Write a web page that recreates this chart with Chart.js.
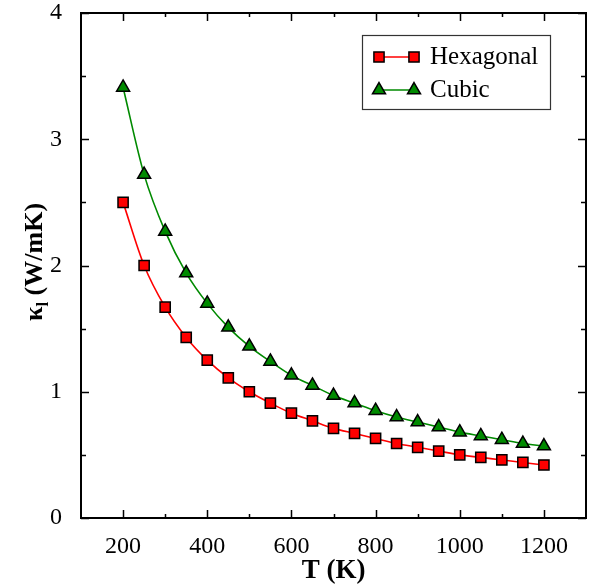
<!DOCTYPE html>
<html>
<head>
<meta charset="utf-8">
<script src="https://cdn.jsdelivr.net/npm/chart.js@4"></script>
<style>
    html, body { margin: 0; padding: 0; background: #ffffff; }
    canvas { display: block; }
</style>
</head>
<body>
<canvas id="kappaChart" width="603" height="587"></canvas>
<script>
// Lattice thermal conductivity vs temperature
const temps = [200, 250, 300, 350, 400, 450, 500, 550, 600, 650, 700,
               750, 800, 850, 900, 950, 1000, 1050, 1100, 1150, 1200];
const hexagonal = [2.50, 2.00, 1.67, 1.43, 1.25, 1.11, 1.00, 0.91, 0.83, 0.77, 0.71,
                   0.67, 0.63, 0.59, 0.56, 0.53, 0.50, 0.48, 0.46, 0.44, 0.42];
const cubic = [3.41, 2.72, 2.27, 1.94, 1.70, 1.51, 1.36, 1.24, 1.13, 1.05, 0.97,
               0.91, 0.85, 0.80, 0.76, 0.72, 0.68, 0.65, 0.62, 0.59, 0.57];

const xTicks = [200, 400, 600, 800, 1000, 1200];
const xMinorTicks = [300, 500, 700, 900, 1100];
const yTicks = [0, 1, 2, 3, 4];
const yMinorTicks = [0.5, 1.5, 2.5, 3.5];

const serif = "'Liberation Serif', 'Times New Roman', serif";

function toPoints(values) {
    return temps.map((t, i) => ({ x: t, y: values[i] }));
}

// frame, inward ticks, y title with subscript, legend box
const decorations = {
    id: 'decorations',
    afterDraw(chart) {
        const ctx = chart.ctx;
        const a = chart.chartArea;
        const xs = chart.scales.x;
        const ys = chart.scales.y;

        ctx.save();
        ctx.strokeStyle = '#000';
        ctx.lineWidth = 2;
        ctx.strokeRect(a.left, a.top, a.right - a.left, a.bottom - a.top);

        ctx.lineWidth = 1.5;
        ctx.beginPath();
        const tickX = (v, len) => {
            const px = Math.round(xs.getPixelForValue(v)) + 0.5;
            ctx.moveTo(px, a.bottom); ctx.lineTo(px, a.bottom - len);
            ctx.moveTo(px, a.top); ctx.lineTo(px, a.top + len);
        };
        const tickY = (v, len) => {
            const py = Math.round(ys.getPixelForValue(v)) + 0.5;
            ctx.moveTo(a.left, py); ctx.lineTo(a.left + len, py);
            ctx.moveTo(a.right, py); ctx.lineTo(a.right - len, py);
        };
        xTicks.forEach(v => tickX(v, 8));
        xMinorTicks.forEach(v => tickX(v, 4));
        yTicks.forEach(v => tickY(v, 8));
        yMinorTicks.forEach(v => tickY(v, 5));
        ctx.stroke();

        // y axis title: kappa with subscript l
        ctx.translate(33, 262);
        ctx.rotate(-Math.PI / 2);
        ctx.fillStyle = '#000';
        ctx.textBaseline = 'alphabetic';
        const big = 'bold 26px ' + serif;
        const small = 'bold 17px ' + serif;
        ctx.font = big;
        const wK = ctx.measureText('\u03BA').width;
        const wRest = ctx.measureText(' (W/mK)').width;
        ctx.font = small;
        const wSub = ctx.measureText('l').width;
        const x0 = -(wK + wSub + wRest) / 2;
        ctx.font = big;
        ctx.fillText('\u03BA', x0, 9);
        ctx.font = small;
        ctx.fillText('l', x0 + wK, 15);
        ctx.font = big;
        ctx.fillText(' (W/mK)', x0 + wK + wSub, 9);
        ctx.restore();

        // legend
        ctx.save();
        ctx.strokeStyle = '#333';
        ctx.lineWidth = 1.2;
        ctx.strokeRect(362.5, 35.5, 188, 74);
        const rows = [57, 90];
        chart.data.datasets.forEach((ds, i) => {
            const y = rows[i];
            ctx.strokeStyle = ds.borderColor;
            ctx.lineWidth = ds.borderWidth;
            ctx.beginPath();
            ctx.moveTo(379, y); ctx.lineTo(414, y);
            ctx.stroke();
            ctx.fillStyle = ds.pointBackgroundColor;
            ctx.strokeStyle = ds.pointBorderColor;
            ctx.lineWidth = ds.pointBorderWidth;
            [379, 414].forEach(px => {
                Chart.helpers.drawPoint(ctx, {
                    pointStyle: ds.pointStyle,
                    radius: ds.pointRadius,
                    borderWidth: ds.pointBorderWidth
                }, px, y);
            });
            ctx.fillStyle = '#000';
            ctx.font = '25px ' + serif;
            ctx.textBaseline = 'middle';
            ctx.fillText(ds.label, 430, y);
        });
        ctx.restore();
    }
};

const ctxKappa = document.getElementById('kappaChart').getContext('2d');
new Chart(ctxKappa, {
    type: 'line',
    data: {
        datasets: [{
            label: 'Hexagonal',
            data: toPoints(hexagonal),
            borderColor: '#ff0000',
            borderWidth: 1.6,
            backgroundColor: '#ff0000',
            pointStyle: 'rect',
            pointRadius: 7.2,
            pointBackgroundColor: '#ff0000',
            pointBorderColor: '#000000',
            pointBorderWidth: 1.5,
            cubicInterpolationMode: 'monotone'
        }, {
            label: 'Cubic',
            data: toPoints(cubic),
            borderColor: '#008a00',
            borderWidth: 1.6,
            backgroundColor: '#008a00',
            pointStyle: 'triangle',
            pointRadius: 7.5,
            pointBackgroundColor: '#008a00',
            pointBorderColor: '#000000',
            pointBorderWidth: 1.5,
            cubicInterpolationMode: 'monotone'
        }]
    },
    options: {
        responsive: false,
        animation: false,
        devicePixelRatio: 1,
        layout: { padding: { top: 13, right: 17, left: 0, bottom: 0 } },
        plugins: {
            legend: { display: false },
            tooltip: { enabled: false }
        },
        scales: {
            x: {
                type: 'linear',
                min: 100,
                max: 1300,
                grid: { display: false },
                border: { display: false },
                afterBuildTicks: scale => { scale.ticks = xTicks.map(v => ({ value: v })); },
                afterFit: scale => {
                    scale.height = 69;
                    scale.paddingLeft = 0;
                    scale.paddingRight = 0;
                },
                ticks: {
                    color: '#000',
                    padding: 6,
                    maxRotation: 0,
                    callback: v => String(v),
                    font: { family: serif, size: 24 }
                },
                title: {
                    display: true,
                    text: 'T (K)',
                    color: '#000',
                    padding: { top: 0, bottom: 0 },
                    font: { family: serif, size: 27, weight: 'bold' }
                }
            },
            y: {
                min: 0,
                max: 4,
                grid: { display: false },
                border: { display: false },
                afterBuildTicks: scale => { scale.ticks = yTicks.map(v => ({ value: v })); },
                afterFit: scale => {
                    scale.width = 81;
                    scale.paddingTop = 0;
                    scale.paddingBottom = 0;
                },
                ticks: {
                    color: '#000',
                    padding: 11,
                    callback: v => String(v),
                    font: { family: serif, size: 24 }
                }
            }
        }
    },
    plugins: [decorations]
});
</script>
</body>
</html>
